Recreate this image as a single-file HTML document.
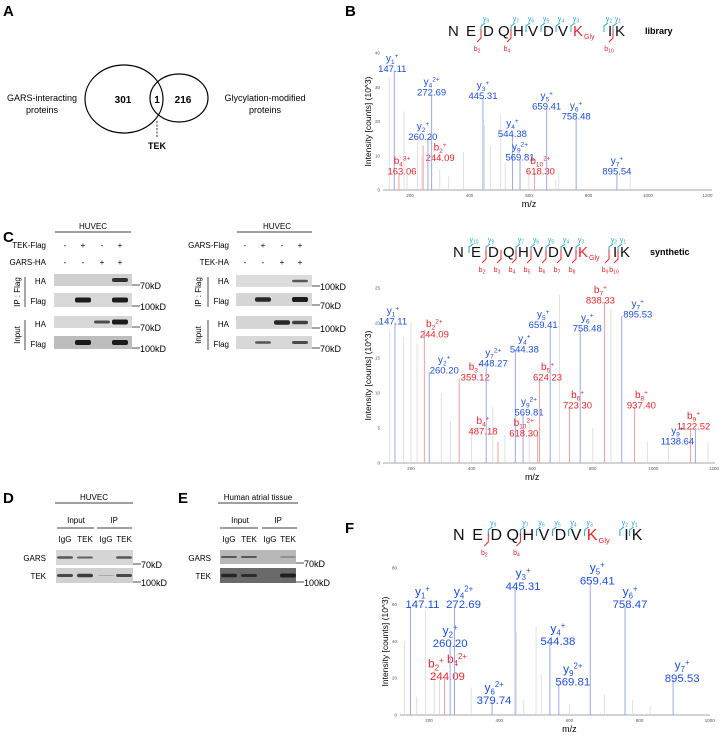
<!DOCTYPE html>
<html><head><meta charset="utf-8">
<style>
html,body{margin:0;padding:0;background:#fff;}
svg{display:block;font-family:"Liberation Sans",Arial,sans-serif;}
</style></head>
<body>
<svg id="fig" width="721" height="736" viewBox="0 0 721 736" xmlns="http://www.w3.org/2000/svg">
<g font-weight="bold" font-size="15" fill="#000">
<text x="3" y="16">A</text>
<text x="345" y="16">B</text>
<text x="3" y="242">C</text>
<text x="3" y="503">D</text>
<text x="178" y="503">E</text>
<text x="345" y="533">F</text>
</g>

<g>
<ellipse cx="124" cy="99" rx="39" ry="34" fill="none" stroke="#000" stroke-width="1.2"/>
<ellipse cx="179" cy="98" rx="29" ry="24" fill="none" stroke="#000" stroke-width="1.2"/>
<text x="123" y="103" font-size="10" font-weight="bold" text-anchor="middle">301</text>
<text x="157" y="103" font-size="10" font-weight="bold" text-anchor="middle">1</text>
<text x="183" y="103" font-size="10" font-weight="bold" text-anchor="middle">216</text>
<text x="42" y="101" font-size="9" text-anchor="middle">GARS-interacting</text>
<text x="42" y="113" font-size="9" text-anchor="middle">proteins</text>
<text x="265" y="101" font-size="9" text-anchor="middle">Glycylation-modified</text>
<text x="265" y="113" font-size="9" text-anchor="middle">proteins</text>
<line x1="157" y1="121" x2="157" y2="137" stroke="#000" stroke-dasharray="2,1.5" stroke-width="0.8"/>
<text x="157" y="149" font-size="9" font-weight="bold" text-anchor="middle">TEK</text>
</g>

<g id="blots"></g>
<g id="spectra"></g>
</svg>

<script>
// ===== Spectrum data =====
const libMz = [147.11, 163.06, 244.09, 260.20, 272.69, 445.31, 544.38, 569.81, 618.30, 659.41, 758.48, 895.54];
const libInt = [35, 5, 13, 15, 28, 27, 16, 9, 5, 24, 21, 5];
const libIon = ['y1','b4','b2','y2','y4','y3','y4','y9','b10','y5','y6','y7'];
const libCharge = ['+','3+','+','+','2+','+','+','2+','2+','+','+','+'];
const libBgMz = [130,180,190,225,240,300,330,380,450,470,505,520,600,690,700,940];
const libBgInt = [33,23,5,14,10,6,4,11,19,13,22,8,6,3,5,4];

const synMz = [147.11, 244.09, 260.20, 359.12, 448.27, 487.18, 544.38, 569.81, 618.30, 624.23, 659.41, 723.30, 758.48, 838.33, 895.53, 937.40, 1122.52, 1138.64];
const synInt = [20, 19, 13, 12, 14, 3, 16, 7, 4, 12, 19.5, 8, 19, 23, 21, 8, 5, 5];
const synIon = ['y1','b2','y2','b3','y7','b4','y4','y9','b10','b5','y5','b6','y6','b7','y7','b8','b9','y9'];
const synCharge = ['+','2+','+','+','2+','+','+','2+','2+','+','+','+','+','+','+','+','+','+'];
const synBgMz = [130,175,200,220,300,330,400,470,510,590,690,800,860,980,1050,1180];
const synBgInt = [19,18,20,17,10,6,5,8,4,6,24,5,22,3,4,3];

const fMz = [147.11, 244.09, 260.20, 272.69, 379.74, 445.31, 544.38, 569.81, 659.41, 758.47, 895.53];
const fInt = [59, 20, 38, 59, 7, 69, 39, 17, 72, 59, 19];
const fIon = ['y1','b2 b4','y2','y4','y6','y3','y4','y9','y5','y6','y7'];
const fCharge = ['+','+ 2+','+','2+','2+','+','+','2+','+','+','+'];
const fBgMz = [130,165,190,215,230,320,450,470,505,520,600,700,780,830];
const fBgInt = [40,10,57,25,19,15,45,8,48,22,6,11,8,5];

const libTicksY = [0,10,20,30,40];
const synTicksY = [0,5,10,15,20,25];
const fTicksY = [0,20,40,60,80];
const libTicksX = [200,400,600,800,1000,1200];
const fTicksX = [200,400,600,800,1000];

const NS = 'http://www.w3.org/2000/svg';
function mk(tag, attrs, parent){const e=document.createElementNS(NS,tag);for(const k in attrs)e.setAttribute(k,attrs[k]);if(parent)parent.appendChild(e);return e;}

function drawSpectrum(cfg){
  const g = mk('g',{},document.getElementById('spectra'));
  
  
  const xs = m => cfg.x0 + (m - cfg.m0) * cfg.kx;
  const ys = v => cfg.y0 - v * cfg.ky;
  const ax = mk('line',{x1:cfg.left,y1:cfg.y0,x2:cfg.right,y2:cfg.y0,stroke:'#888','stroke-width':0.7},g);
  
  
  cfg.ticksX.forEach(t=>{
    const tx = mk('text',{x:xs(t),y:cfg.y0+7,'font-size':4.5,'text-anchor':'middle',fill:'#555'},g);
    tx.textContent=t;
    
    
  });
  cfg.ticksY.forEach(t=>{
    const ty = mk('text',{x:cfg.left-3,y:ys(t)+1.5,'font-size':4.5,'text-anchor':'end',fill:'#555'},g);
    ty.textContent=t;
    
    
  });
  const xl = mk('text',{x:xs(cfg.xMid),y:cfg.y0+17,'font-size':9,'text-anchor':'middle'},g);
  xl.textContent='m/z';
  
  
  const ylx = cfg.left-12, yly = (cfg.y0+cfg.top)/2;
  const yl = mk('text',{x:ylx,y:yly,'font-size':8.5,'text-anchor':'middle',transform:`rotate(-90 ${ylx} ${yly})`},g);
  yl.textContent='Intensity [counts] (10^3)';
  
  
  cfg.bgMz.forEach((m,i)=>{
    const p = mk('line',{x1:xs(m),y1:cfg.y0,x2:xs(m),y2:ys(cfg.bgInt[i]),stroke:'#d8d8d8','stroke-width':0.8},g);
    
    
  });
  cfg.mz.forEach((m,i)=>{
    const isB = cfg.ion[i][0]==='b';
    const col = isB ? '#e8262b' : '#1d4fd8';
    const lineCol = isB ? '#f0a0a0' : '#9aa8e8';
    const px = xs(m), py = ys(cfg.int[i]);
    const p = mk('line',{x1:px,y1:cfg.y0,x2:px,y2:py,stroke:lineCol,'stroke-width':1},g);
    
    
    const fs = cfg.fs;
    const lx = px + (cfg.dx[i]||0), ly = py + (cfg.dy[i]||0);
    const nm = mk('text',{x:lx,y:ly-fs*0.9,'font-size':fs,'text-anchor':'middle',fill:col},g);
    const parts = cfg.ion[i].split(' '), chs = cfg.charge[i].split(' ');
    parts.forEach((pt,j)=>{
      const a = mk('tspan',{},nm); a.textContent=(j?' ':'')+pt[0];
      const s = mk('tspan',{'font-size':fs*0.65,dy:fs*0.25},nm); s.textContent=pt.slice(1);
      const c = mk('tspan',{'font-size':fs*0.65,dy:-fs*0.6},nm); c.textContent=chs[j]||'';
      const r = mk('tspan',{'font-size':fs*0.65,dy:fs*0.35},nm); r.textContent='';
    });
    
    
    const vl = mk('text',{x:lx,y:ly+fs*0.15,'font-size':fs*0.95,'text-anchor':'middle',fill:col},g);
    vl.textContent = m.toFixed(2);
    
    
  });
}

drawSpectrum({name:'spectrum-library',mz:libMz,int:libInt,ion:libIon,charge:libCharge,bgMz:libBgMz,bgInt:libBgInt,
  dx:[-2,3,17,-5,0,0,0,0,6,0,0,0], dy:[0,0,14,0,0,0,0,0,0,0,0,0],
  x0:410,m0:200,kx:0.2975,y0:190,ky:3.42,left:383,right:712,top:53,ticksX:libTicksX,ticksY:libTicksY,xMid:600,fs:10});
drawSpectrum({name:'spectrum-synthetic',mz:synMz,int:synInt,ion:synIon,charge:synCharge,bgMz:synBgMz,bgInt:synBgInt,
  dx:[-2,10,15,16,7,-15,9,6,-14,8,-7,8,7,-4,16,7,3,-18], dy:[0,6,0,0,0,-9,0,0,0,0,0,0,0,0,0,0,0,15],
  x0:411,m0:200,kx:0.303,y0:463,ky:7,left:383,right:715,top:288,ticksX:libTicksX,ticksY:synTicksY,xMid:600,fs:10});
drawSpectrum({name:'spectrum-f',mz:fMz,int:fInt,ion:fIon,charge:fCharge,bgMz:fBgMz,bgInt:fBgInt,
  dx:[12,3,0,9,2,8,8,14,7,5,9], dy:[0,0,0,0,0,0,0,0,0,0,0],
  x0:429,m0:200,kx:0.351,y0:715,ky:1.84,left:400,right:710,top:568,ticksX:fTicksX,ticksY:fTicksY,xMid:600,fs:12});

const seqLetters = ['N','E','D','Q','H','V','D','V','K','I','K'];
function drawSeq(x0, y0, sc, yIons, bIons, name, tag){
  const g = mk('g',{},document.getElementById('spectra'));
  
  
  const off = [0,18,35,50,65,80,95,110,125,160,167];
  seqLetters.forEach((L,i)=>{
    const t = mk('text',{x:x0+off[i]*sc,y:y0,'font-size':15*sc,fill:i===8?'#e8262b':'#111'},g);
    t.textContent=L;
    
    
  });
  const gl = mk('text',{x:x0+136*sc,y:y0+3,'font-size':7*sc,fill:'#e8262b'},g);
  gl.textContent='Gly';
  
  
  const gapX = k => x0 + (k===9 ? 156 : off[k]-2)*sc;
  yIons.forEach(n=>{
    const k = 11-n, gx = gapX(k);
    mk('path',{d:`M${gx} ${y0-4} L${gx} ${y0-10} L${gx+4} ${y0-13}`,fill:'none',stroke:'#2aa5c8','stroke-width':1},g);
    const t = mk('text',{x:gx+5,y:y0-15,'font-size':7,'text-anchor':'middle',fill:'#2aa5c8'},g);
    t.textContent='y'; const s=mk('tspan',{'font-size':5,dy:1.5},t); s.textContent=n;
    
    
  });
  bIons.forEach(n=>{
    const gx = gapX(n);
    mk('path',{d:`M${gx} ${y0-7} L${gx} ${y0+2} L${gx-4} ${y0+6}`,fill:'none',stroke:'#e8262b','stroke-width':1},g);
    const t = mk('text',{x:gx-4,y:y0+15,'font-size':7,'text-anchor':'middle',fill:'#e8262b'},g);
    t.textContent='b'; const s=mk('tspan',{'font-size':5,dy:1.5},t); s.textContent=n;
    
    
  });
  if(tag){
    const t = mk('text',{x:x0+197,y:y0-2,'font-size':9,'font-weight':'bold'},g);
    t.textContent=tag;
    
    
  }
}
drawSeq(448,36,1,[9,7,6,5,4,3,2,1],[2,4,10],'sequence-library','library');
drawSeq(453,257,1,[10,9,7,6,5,4,3,2,1],[2,3,4,5,6,7,8,9,10],'sequence-synthetic','synthetic');
drawSeq(453,540,1.07,[9,7,6,5,4,3,2,1],[2,4],'sequence-f',null);

const B = document.getElementById('blots');
function txt(x,y,s,fs,anchor,name,extra){
  const t = mk('text',Object.assign({x:x,y:y,'font-size':fs,'text-anchor':anchor||'start'},extra||{}),B);
  t.textContent=s;
  
  
  return t;
}
function blot(x,y,w,h,bg,lanesX,bands,name,mw){
  const r = mk('rect',{x:x,y:y,width:w,height:h,fill:bg},B);
  
  
  bands.forEach((b,i)=>{ if(b>0){
    const bd = mk('rect',{x:lanesX[i]-8,y:y+h/2-2.5*b,width:16,height:5*b,rx:2,fill:'#111',opacity:0.35+0.6*Math.min(b,1)},B);
    
    
  }});
  mk('line',{x1:x+w,y1:y+h-1,x2:x+w+8,y2:y+h-1,stroke:'#000','stroke-width':0.7},B);
  txt(x+w+8,y+h+3,mw,9,'start','mw-marker');
}
txt(93,229,'HUVEC',8,'middle','c-left-cell-label');
mk('line',{x1:55,y1:232,x2:131,y2:232,stroke:'#000','stroke-width':0.8},B);
txt(46,248,'TEK-Flag',8,'end','row-tek-flag');
txt(46,265,'GARS-HA',8,'end','row-gars-ha');
const cLx=[65,83,102,120];
['-','+','-','+'].forEach((s,i)=>txt(cLx[i],248,s,8,'middle','sign'));
['-','-','+','+'].forEach((s,i)=>txt(cLx[i],265,s,8,'middle','sign'));
blot(54,274,78,12,'#cfcfcf',cLx,[0,0,0,0.8],'blot-ip-ha','70kD');
blot(54,293,78,14,'#d8d8d8',cLx,[0,1,0,1],'blot-ip-flag','100kD');
blot(54,316,78,12,'#d8d8d8',cLx,[0,0,0.6,1],'blot-input-ha','70kD');
blot(54,336,78,13,'#bdbdbd',cLx,[0,1,0,1],'blot-input-flag','100kD');
txt(46,284,'HA',8,'end','label-ha');txt(46,304,'Flag',8,'end','label-flag');
txt(46,327,'HA',8,'end','label-ha');txt(46,347,'Flag',8,'end','label-flag');
mk('line',{x1:25,y1:277,x2:25,y2:307,stroke:'#000','stroke-width':0.7},B);
mk('line',{x1:25,y1:320,x2:25,y2:350,stroke:'#000','stroke-width':0.7},B);
txt(20,292,'IP : Flag',8,'middle','ip-flag-label',{transform:'rotate(-90 20 292)'});
txt(20,335,'Input',8,'middle','input-label',{transform:'rotate(-90 20 335)'});
txt(277,229,'HUVEC',8,'middle','c-right-cell-label');
mk('line',{x1:237,y1:232,x2:312,y2:232,stroke:'#000','stroke-width':0.8},B);
txt(229,248,'GARS-Flag',8,'end','row-gars-flag');
txt(229,265,'TEK-HA',8,'end','row-tek-ha');
const cRx=[245,263,282,300];
['-','+','-','+'].forEach((s,i)=>txt(cRx[i],248,s,8,'middle','sign'));
['-','-','+','+'].forEach((s,i)=>txt(cRx[i],265,s,8,'middle','sign'));
blot(236,275,76,12,'#dcdcdc',cRx,[0,0,0,0.5],'blot-ip-ha-r','100kD');
blot(236,293,76,13,'#d6d6d6',cRx,[0,0.9,0,1],'blot-ip-flag-r','70kD');
blot(236,316,76,13,'#d6d6d6',cRx,[0,0,0.9,0.7],'blot-input-ha-r','100kD');
blot(236,336,76,13,'#d8d8d8',cRx,[0,0.5,0,0.6],'blot-input-flag-r','70kD');
txt(229,284,'HA',8,'end','label-ha');txt(229,304,'Flag',8,'end','label-flag');
txt(229,327,'HA',8,'end','label-ha');txt(229,347,'Flag',8,'end','label-flag');
mk('line',{x1:208,y1:277,x2:208,y2:307,stroke:'#000','stroke-width':0.7},B);
mk('line',{x1:208,y1:320,x2:208,y2:350,stroke:'#000','stroke-width':0.7},B);
txt(201,292,'IP : Flag',8,'middle','ip-flag-label',{transform:'rotate(-90 201 292)'});
txt(201,335,'Input',8,'middle','input-label',{transform:'rotate(-90 201 335)'});
txt(94,500,'HUVEC',8,'middle','d-cell-label');
mk('line',{x1:55,y1:503,x2:133,y2:503,stroke:'#000','stroke-width':0.8},B);
txt(76,523,'Input',8,'middle','d-input');txt(114,523,'IP',8,'middle','d-ip');
mk('line',{x1:57,y1:528,x2:94,y2:528,stroke:'#000','stroke-width':0.8},B);
mk('line',{x1:97,y1:528,x2:132,y2:528,stroke:'#000','stroke-width':0.8},B);
const dx=[65,85,106,124];
['IgG','TEK','IgG','TEK'].forEach((s,i)=>txt(dx[i],542,s,8,'middle','lane-label'));
blot(56,550,77,15,'#d6d6d6',dx,[0.5,0.4,0,0.5],'blot-d-gars','70kD');
blot(56,568,77,15,'#d0d0d0',dx,[0.6,0.7,0.1,0.6],'blot-d-tek','100kD');
txt(46,561,'GARS',8,'end','label-gars');txt(46,579,'TEK',8,'end','label-tek');
txt(258,500,'Human atrial tissue',8,'middle','e-tissue-label');
mk('line',{x1:218,y1:503,x2:298,y2:503,stroke:'#000','stroke-width':0.8},B);
txt(240,523,'Input',8,'middle','e-input');txt(278,523,'IP',8,'middle','e-ip');
mk('line',{x1:220,y1:528,x2:258,y2:528,stroke:'#000','stroke-width':0.8},B);
mk('line',{x1:262,y1:528,x2:297,y2:528,stroke:'#000','stroke-width':0.8},B);
const ex=[229,249,270,288];
['IgG','TEK','IgG','TEK'].forEach((s,i)=>txt(ex[i],542,s,8,'middle','lane-label'));
blot(220,550,76,14,'#b8b8b8',ex,[0.4,0.4,0,0.2],'blot-e-gars','70kD');
blot(220,568,76,15,'#6a6a6a',ex,[0.7,0.6,0,0.8],'blot-e-tek','100kD');
txt(211,561,'GARS',8,'end','label-gars');txt(211,579,'TEK',8,'end','label-tek');
</script>
</body></html>
